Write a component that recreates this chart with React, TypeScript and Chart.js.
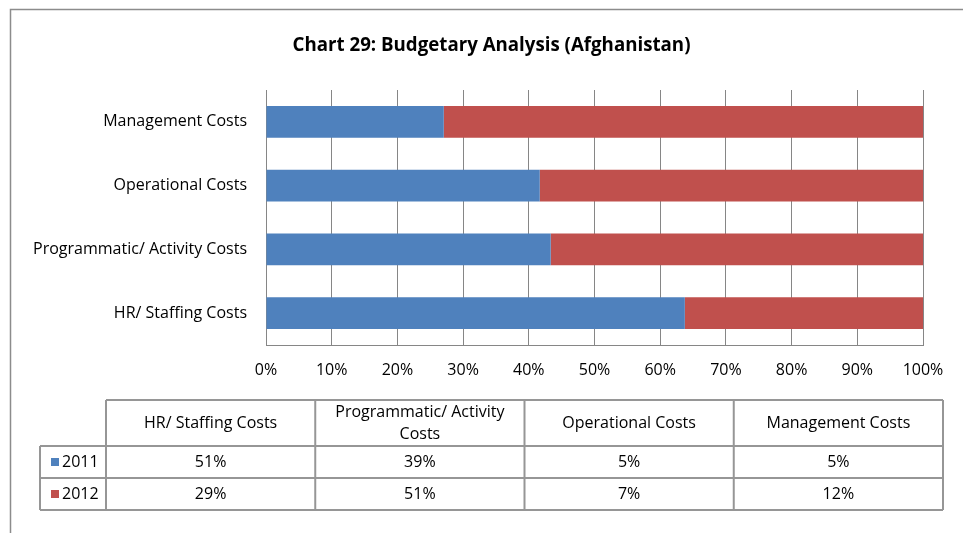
import React, { useEffect, useRef } from 'react';
import { Chart, registerables } from 'chart.js';

Chart.register(...registerables);

// ---- data ----
const chartTitle = 'Chart 29: Budgetary Analysis (Afghanistan)';
const categories = [
  'HR/ Staffing Costs',
  'Programmatic/ Activity Costs',
  'Operational Costs',
  'Management Costs',
];
const seriesNames = ['2011', '2012'];
const values2011 = [51, 39, 5, 4.6];
const values2012 = [29, 51, 7, 12.4];
const seriesColors = ['#4F81BD', '#C0504D'];

const FONT = '"Open Sans", sans-serif';
const FS = 16;

const share = (a: number[], b: number[], which: number[]) =>
  which.map((v, i) => (v / (a[i] + b[i])) * 100);

const framePlugin = {
  id: 'frameAndTable',
  beforeDraw(chart: any) {
    const ctx = chart.ctx;
    ctx.save();
    ctx.fillStyle = '#ffffff';
    ctx.fillRect(0, 0, chart.width, chart.height);
    ctx.strokeStyle = '#8c8c8c';
    ctx.lineWidth = 1.5;
    ctx.strokeRect(10.5, 9.5, 980, 560);
    ctx.restore();
  },
  afterDraw(chart: any) {
    const ctx = chart.ctx;
    const legendLeft = 40;
    const colLeft = 106;
    const tableRight = 943;
    const yHead = 400;
    const yRow1 = 446;
    const yRow2 = 478;
    const yEnd = 510;
    const n = categories.length;
    const colW = (tableRight - colLeft) / n;
    const edges = Array.from({ length: n + 1 }, (_, i) => colLeft + i * colW);

    ctx.save();
    ctx.strokeStyle = '#969696';
    ctx.lineWidth = 2;
    ctx.beginPath();
    ctx.moveTo(colLeft, yHead);
    ctx.lineTo(tableRight, yHead);
    [yRow1, yRow2, yEnd].forEach((y) => {
      ctx.moveTo(legendLeft, y);
      ctx.lineTo(tableRight, y);
    });
    ctx.moveTo(legendLeft, yRow1);
    ctx.lineTo(legendLeft, yEnd);
    edges.forEach((x) => {
      ctx.moveTo(x, yHead);
      ctx.lineTo(x, yEnd);
    });
    ctx.stroke();

    ctx.fillStyle = '#000';
    ctx.font = `${FS}px ${FONT}`;
    ctx.textAlign = 'center';
    ctx.textBaseline = 'middle';
    // header
    categories.forEach((c, i) => {
      const cx = (edges[i] + edges[i + 1]) / 2;
      const maxW = colW - 12;
      const words = c.split(' ');
      const lines: string[] = [];
      let cur = '';
      words.forEach((w) => {
        const test = cur ? cur + ' ' + w : w;
        if (ctx.measureText(test).width > maxW && cur) {
          lines.push(cur);
          cur = w;
        } else cur = test;
      });
      if (cur) lines.push(cur);
      const lh = 22;
      const cy = (yHead + yRow1) / 2;
      lines.forEach((l, k) => {
        ctx.fillText(l, cx, cy + (k - (lines.length - 1) / 2) * lh);
      });
    });
    // rows
    const rows = [values2011, values2012];
    const rowY = [(yRow1 + yRow2) / 2, (yRow2 + yEnd) / 2];
    rows.forEach((vals, r) => {
      ctx.textAlign = 'center';
      vals.forEach((v, i) => {
        const cx = (edges[i] + edges[i + 1]) / 2;
        ctx.fillText(Math.round(v) + '%', cx, rowY[r]);
      });
      ctx.fillStyle = seriesColors[r];
      ctx.fillRect(51, rowY[r] - 4, 8, 8);
      ctx.fillStyle = '#000';
      ctx.textAlign = 'left';
      ctx.fillText(seriesNames[r], 62, rowY[r]);
    });
    ctx.restore();
  },
};

export default function App() {
  const ref = useRef<HTMLCanvasElement | null>(null);
  useEffect(() => {
    if (!ref.current) return;
    const chart = new Chart(ref.current, {
      type: 'bar',
      data: {
        labels: categories,
        datasets: [
          {
            label: seriesNames[0],
            data: share(values2011, values2012, values2011),
            backgroundColor: seriesColors[0],
            categoryPercentage: 0.5,
            barPercentage: 1,
          },
          {
            label: seriesNames[1],
            data: share(values2011, values2012, values2012),
            backgroundColor: seriesColors[1],
            categoryPercentage: 0.5,
            barPercentage: 1,
          },
        ],
      },
      options: {
        indexAxis: 'y',
        responsive: false,
        animation: false,
        devicePixelRatio: 1,
        layout: { padding: { left: 20, right: 0, top: 0, bottom: 148 } },
        plugins: {
          legend: { display: false },
          tooltip: { enabled: false },
          title: {
            display: true,
            text: chartTitle,
            color: '#000',
            font: { family: FONT, size: 18.7, weight: 'bold', lineHeight: 1.2 },
            padding: { top: 34, bottom: 33.56 },
          },
        },
        scales: {
          x: {
            stacked: true,
            min: 0,
            max: 100,
            ticks: {
              stepSize: 10,
              padding: 16,
              color: '#000',
              font: { family: FONT, size: FS },
              callback: (v: any) => v + '%',
            },
            grid: { color: '#868686', lineWidth: 1, drawTicks: false },
            border: { color: '#868686', width: 1 },
            afterFit: (s: any) => {
              s.height = 40;
            },
          },
          y: {
            stacked: true,
            reverse: true,
            ticks: {
              padding: 19,
              color: '#000',
              font: { family: FONT, size: FS },
            },
            grid: { display: false, drawTicks: false },
            border: { color: '#868686', width: 1 },
            afterFit: (s: any) => {
              s.width = 246;
            },
          },
          y2: {
            type: 'category',
            position: 'right',
            ticks: { display: false },
            grid: { display: false, drawTicks: false },
            border: { display: false },
            afterFit: (s: any) => {
              s.width = 40;
            },
          },
        },
      },
      plugins: [framePlugin],
    } as any);
    return () => chart.destroy();
  }, []);
  return (
    <div style={{ position: 'absolute', left: 0, top: 0, width: 963, height: 533, overflow: 'hidden' }}>
      <canvas ref={ref} width={963} height={533} style={{ display: 'block' }} />
    </div>
  );
}
